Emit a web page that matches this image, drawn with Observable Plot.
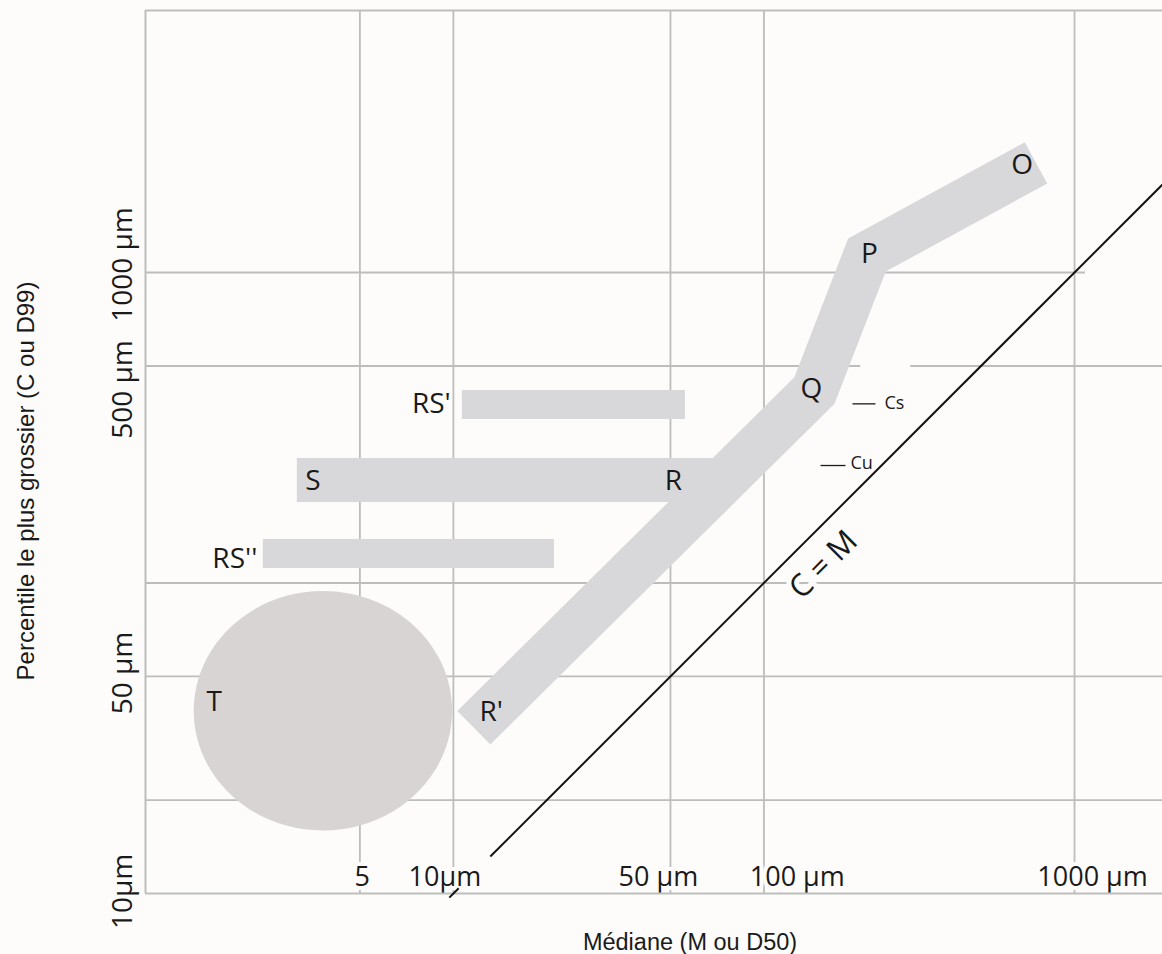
<!DOCTYPE html>
<html>
<head>
<meta charset="utf-8">
<script src="https://cdn.jsdelivr.net/npm/d3@7"></script>
<script src="https://cdn.jsdelivr.net/npm/@observablehq/plot@0.6"></script>
<style>
  html, body { margin: 0; padding: 0; background: #fdfcfa; }
  #chart svg { display: block; }
</style>
</head>
<body>
<div id="chart"></div>
<script>
// ---------- Data (in µm) ----------
const xDomain = [1.02, 1920];          // Médiane M (D50)
const yDomain = [10, 6980];            // Percentile le plus grossier C (D99)

const xGrid = [5, 10, 50, 100, 1000];
const yGridFull = [20, 50, 100];
const yGridPartC = [500, 500, 1000];
const yGridPartFrom = [1.02, 297, 1.02];
const yGridPartTo = [205, 1920, 1085];

const xTickLabels = ["5", "10µm", "50 µm", "100 µm", "1000 µm"];
const xTickLabelAt = [5.09, 9.39, 45.7, 128, 1143];
const yTickLabels = ["10µm", "50 µm", "500 µm", "1000 µm"];
const yTickLabelAt = [10.15, 51.3, 420, 1061];

// Main band R' – Q – P – O
const bandM = [11.64, 145.4, 214.6, 751.6];
const bandC = [34.2, 416.9, 1139, 2253];

// Horizontal bands RS', S–R, RS''
const barNames = ["RS'", "S-R", "RS''"];
const barM1 = [10.69, 3.145, 2.443];
const barM2 = [55.87, 75.2, 21.15];
const barC1 = [336.3, 181.7, 111.4];
const barC2 = [416.9, 251.8, 138.1];

// Zone T (ellipse centre)
const tZoneM = [3.80];
const tZoneC = [38.76];

// Zone labels
const zoneLabels = ["O", "P", "Q", "R", "S", "T", "R'", "RS'", "RS''"];
const zoneLabelM = [678.6, 218.7, 142.2, 51.1, 3.527, 1.699, 13.23, 8.494, 1.978];
const zoneLabelC = [2211, 1143, 420, 213.8, 213.8, 41.52, 38.36, 375.7, 119.9];

// Cs / Cu markers: short dash + label
const markerLabels = ["Cs", "Cu"];
const markerDashFrom = [192.8, 152.1];
const markerDashTo = [228.6, 183.0];
const markerDashC = [377.6, 239.0];
const markerTextM = [244.3, 189.9];
const markerTextC = [380.5, 243.5];

// C = M line (segments in µm) and its label
const cmSegFrom = [9.7, 13.15];
const cmSegTo = [10.4, 1920];
const cmLabel = ["C = M"];
const cmLabelM = [155.4];
const cmLabelC = [114.5];

// ---------- Styling ----------
const BG = "#fdfcfa";
const GRID = "#bdbdbd";
const BAND = "#d8d8da";
const ELLIPSE = "#d9d4d4";
const INK = "#1a1a1a";
const FONT = "Open Sans";

// Ellipse symbol for zone T (slightly wider than tall)
const ellipseAspect = 129.2 / 119.7;
const ellipseSymbol = {
  draw(ctx, size) {
    const r = Math.sqrt(size / Math.PI);
    const rx = r * Math.sqrt(ellipseAspect), ry = r / Math.sqrt(ellipseAspect);
    const k = 0.5522847;
    ctx.moveTo(rx, 0);
    ctx.bezierCurveTo(rx, k * ry, k * rx, ry, 0, ry);
    ctx.bezierCurveTo(-k * rx, ry, -rx, k * ry, -rx, 0);
    ctx.bezierCurveTo(-rx, -k * ry, -k * rx, -ry, 0, -ry);
    ctx.bezierCurveTo(k * rx, -ry, rx, -k * ry, rx, 0);
    ctx.closePath();
  }
};

const band = bandM.map((m, i) => ({m, c: bandC[i]}));
const bars = barNames.map((n, i) => ({n, m1: barM1[i], m2: barM2[i], c1: barC1[i], c2: barC2[i]}));
const zones = zoneLabels.map((t, i) => ({t, m: zoneLabelM[i], c: zoneLabelC[i]}));
const markers = markerLabels.map((t, i) => ({t, a: markerDashFrom[i], b: markerDashTo[i], dc: markerDashC[i], m: markerTextM[i], c: markerTextC[i]}));
const cmSegs = cmSegFrom.map((a, i) => ({a, b: cmSegTo[i]}));
const yParts = yGridPartC.map((c, i) => ({c, a: yGridPartFrom[i], b: yGridPartTo[i]}));

const chart = Plot.plot({
  width: 1162,
  height: 954,
  marginLeft: 145,
  marginRight: 0,
  marginTop: 10,
  marginBottom: 61,
  style: {background: BG, fontFamily: FONT, color: INK},
  x: {type: "log", domain: xDomain, axis: null},
  y: {type: "log", domain: yDomain, axis: null},
  marks: [
    // grid
    Plot.ruleX(xGrid, {x: d => d, y1: yDomain[0], y2: yDomain[1], stroke: GRID, strokeWidth: 1.8}),
    Plot.ruleY(yGridFull, {y: d => d, x1: xDomain[0], x2: xDomain[1], stroke: GRID, strokeWidth: 1.8}),
    Plot.ruleY(yParts, {y: "c", x1: "a", x2: "b", stroke: GRID, strokeWidth: 1.8}),
    // zone T
    Plot.dot(tZoneM.map((m, i) => ({m, c: tZoneC[i]})), {x: "m", y: "c", r: Math.sqrt(129.2 * 119.7), symbol: ellipseSymbol, fill: ELLIPSE, stroke: "none"}),
    // horizontal bands
    Plot.rect(bars, {x1: "m1", x2: "m2", y1: "c1", y2: "c2", fill: BAND}),
    // main band
    Plot.line(band, {x: "m", y: "c", stroke: BAND, strokeWidth: 47, strokeLinejoin: "miter", strokeLinecap: "butt", strokeMiterlimit: 10}),
    // zone labels
    Plot.text(zones, {x: "m", y: "c", text: "t", fontSize: 28, fontFamily: FONT, fill: INK, textAnchor: "middle", lineAnchor: "middle"}),
    // C = M label (with halo cutting the gridline)
    Plot.text(cmLabel, {x: (d, i) => cmLabelM[i], y: (d, i) => cmLabelC[i], text: d => d, rotate: -45, fontSize: 31, fontFamily: FONT, fill: INK, stroke: BG, strokeWidth: 10, textAnchor: "middle", lineAnchor: "middle"}),
    // x tick labels inside plot
    Plot.text(xTickLabels, {x: (d, i) => xTickLabelAt[i], frameAnchor: "bottom", text: d => d, dy: -8, fontSize: 27, fontFamily: FONT, fill: INK, stroke: BG, strokeWidth: 8, textAnchor: "middle", lineAnchor: "bottom"}),
    // frame: left, top, bottom
    Plot.ruleX([xDomain[0]], {y1: yDomain[0], y2: yDomain[1], stroke: GRID, strokeWidth: 2}),
    Plot.ruleY([yDomain[0], yDomain[1]], {x1: xDomain[0], x2: xDomain[1], stroke: GRID, strokeWidth: 2}),
    // C = M line
    Plot.link(cmSegs, {x1: "a", y1: "a", x2: "b", y2: "b", stroke: "#111", strokeWidth: 2}),
    // Cs / Cu
    Plot.link(markers, {x1: "a", x2: "b", y1: "dc", y2: "dc", stroke: INK, strokeWidth: 1.3}),
    Plot.text(markers, {x: "m", y: "c", text: "t", fontSize: 18, fontFamily: FONT, fill: INK, textAnchor: "start", lineAnchor: "middle"}),
    // y tick labels
    Plot.text(yTickLabels, {y: (d, i) => yTickLabelAt[i], frameAnchor: "left", text: d => d, dx: -22, rotate: -90, fontSize: 28, fontFamily: FONT, fill: INK, textAnchor: "middle", lineAnchor: "middle"}),
    // axis titles
    Plot.text(["Médiane (M ou D50)"], {frameAnchor: "bottom", text: d => d, dx: 36, dy: 49, fontSize: 23.5, fontFamily: "Liberation Sans", fill: INK, textAnchor: "middle", lineAnchor: "middle"}),
    Plot.text(["Percentile le plus grossier (C ou D99)"], {frameAnchor: "left", text: d => d, dx: -119, dy: 29, rotate: -90, fontSize: 24, fontFamily: "Liberation Sans", fill: INK, textAnchor: "middle", lineAnchor: "middle"})
  ]
});
document.getElementById("chart").appendChild(chart);
</script>
</body>
</html>
